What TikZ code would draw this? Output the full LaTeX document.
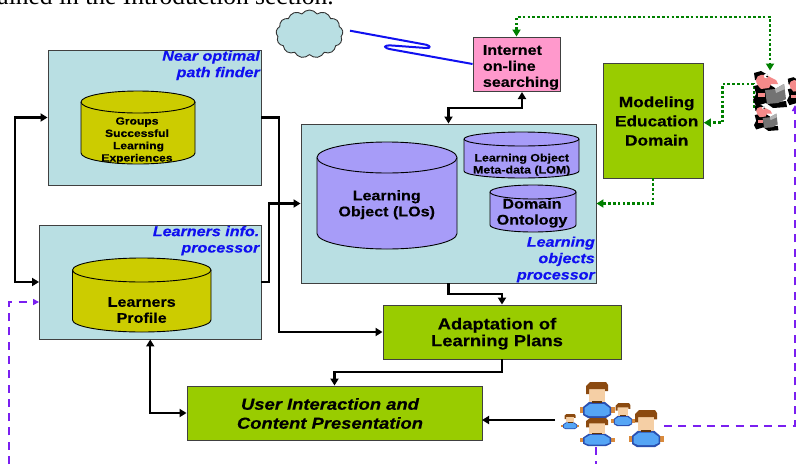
\documentclass[tikz,border=0pt]{standalone}
\usepackage{fontspec}
\setmainfont[FakeStretch=1.15,BoldFeatures={FakeBold=0.3},BoldItalicFeatures={FakeBold=0.3}]{Liberation Sans}
\newfontfamily\topfont{Liberation Serif}
\usetikzlibrary{arrows.meta,shapes.symbols,calc}
\definecolor{tealbox}{HTML}{B9DFE3}
\definecolor{greenbox}{HTML}{99CC00}
\definecolor{yellowcyl}{HTML}{CCCC00}
\definecolor{purplecyl}{HTML}{A79CF8}
\definecolor{pinkbox}{HTML}{FF99CC}
\definecolor{lblblue}{HTML}{1010F0}
\definecolor{grn}{HTML}{008000}
\definecolor{pur}{HTML}{7A1FF0}
\definecolor{hairc}{HTML}{8B4A10}
\definecolor{skinc}{HTML}{F5CFA5}
\definecolor{bodyc}{HTML}{55A5F5}
\definecolor{bodyd}{HTML}{2A50B0}
\definecolor{armc}{HTML}{D98A3C}
\definecolor{manp}{HTML}{F58A8A}
\tikzset{
  x=1pt,y=-1pt,
  boxn/.style={draw=black!75,line width=0.9pt,inner sep=0pt,rectangle},
  teal box/.style={boxn,fill=tealbox},
  green box/.style={boxn,fill=greenbox},
  pink box/.style={boxn,fill=pinkbox},
  lbl/.style={font=\bfseries\fontsize{14}{16}\selectfont,align=center,inner sep=0pt,text=black},
  lblr/.style={font=\bfseries\itshape\fontsize{14}{16.4}\selectfont,align=right,inner sep=0pt,text=lblblue},
  blk/.style={draw=black,line width=2.4pt,-{Triangle[length=7pt,width=8pt]}},
  blkb/.style={draw=black,line width=2.4pt,{Triangle[length=7pt,width=8pt]}-{Triangle[length=7pt,width=8pt]}},
  gdot/.style={draw=grn,line width=2.8pt,dash pattern=on 2.6pt off 2.2pt,-{Triangle[length=7pt,width=8pt,fill=grn]}},
  gdotb/.style={draw=grn,line width=2.8pt,dash pattern=on 2.6pt off 2.2pt,{Triangle[length=7pt,width=8pt,fill=grn]}-{Triangle[length=7pt,width=8pt,fill=grn]}},
  pdash/.style={draw=pur,line width=1.7pt,dash pattern=on 8pt off 6.3pt,-{Triangle[length=6pt,width=6pt,fill=pur]}},
  pplain/.style={draw=pur,line width=1.7pt,dash pattern=on 8pt off 6.3pt},
}
\newcommand{\mycyl}[7]{%
  \pgfmathsetmacro{\rxv}{(#3-#2)/2}
  \pgfmathsetmacro{\cxv}{(#3+#2)/2}
  \coordinate (#1) at (\cxv,#4);
  \filldraw[fill=#7,draw=black,line width=0.9pt] (#2,#4) -- (#2,#5) arc[start angle=180,end angle=360,x radius=\rxv pt,y radius=#6 pt] -- (#3,#4);
  \filldraw[fill=#7,draw=black,line width=0.9pt] (#2,#4) arc[start angle=180,end angle=-180,x radius=\rxv pt,y radius=#6 pt];
}
\newcommand{\myperson}[4]{%
  \begin{scope}[shift={(#1,#2)},xscale=#3,yscale=#4]
    \fill[armc] (-17.5,25) rectangle (-12,31);
    \fill[armc] (12,25) rectangle (17.5,31);
    \fill[bodyd] (-8,20) -- (8,20) -- (14,25) -- (14,33) -- (9,36) -- (-9,36) -- (-14,33) -- (-14,25) -- cycle;
    \fill[bodyc] (-7,22) -- (7,22) -- (12.5,26) -- (12.5,32) -- (8,34) -- (-8,34) -- (-12.5,32) -- (-12.5,26) -- cycle;
    \fill[skinc] (-8,5) rectangle (8,20);
    \fill[hairc] (-7,0) -- (9,0) -- (11,3) -- (11,9) -- (8,9) -- (8,7) -- (-8,7) -- (-8,12) -- (-11,12) -- (-11,4) -- cycle;
    \fill[hairc!70!black] (-5,19) rectangle (5,21);
  \end{scope}}
\newcommand{\myman}[3]{%
  \begin{scope}[shift={(#1,#2)},scale=#3]
    \fill[black] (1,14) -- (14,11) -- (22,16) -- (24,30) -- (33,29) -- (34,35) -- (20,36) -- (13,31) -- (3,34) -- (0,28) -- (3,22) -- cycle;
    \fill[black] (1,1) -- (8,-1) -- (15,3) -- (8,9) -- (2,8) -- cycle;
    \fill[manp] (3,8) .. controls (3,2) and (13,1) .. (17,5) -- (23,8) -- (25,12) -- (18,12) -- (16,16) -- (8,17) .. controls (5,14) and (3,11) .. (3,8) -- cycle;
    \fill[white] (13,4) circle[radius=2.2];
    \fill[black] (14,4.5) circle[radius=1];
    \fill[manp] (5,21) rectangle (12,25);
    \fill[black!55] (12,18) -- (22,17) -- (31,12) -- (33,27) -- (25,31) -- (14,32) -- cycle;
    \fill[black!30] (22,17) -- (31,12) -- (32,17) -- (23,21) -- cycle;
  \end{scope}}
\begin{document}
\begin{tikzpicture}
\useasboundingbox (0,0) rectangle (796,464);
\clip (0,0) rectangle (796,464);
\fill[white] (0,0) rectangle (796,464);
\node[anchor=base east,inner sep=0pt,font=\topfont\fontsize{25.5}{28}\selectfont] (toptext) at (334,4) {ained in the Introduction section.};

% boxes
\node[teal box,minimum width=213pt,minimum height=135pt] (near) at (154.5,117.5) {};
\node[teal box,minimum width=221.5pt,minimum height=114pt] (linfo) at (150.25,282) {};
\node[teal box,minimum width=295pt,minimum height=159pt] (lop) at (448.5,203.5) {};
\node[pink box,minimum width=87pt,minimum height=54pt] (inet) at (516.5,64) {};
\node[green box,minimum width=100pt,minimum height=114.5pt] (model) at (653,120.75) {};
\node[green box,minimum width=238pt,minimum height=54pt] (adapt) at (502,332) {};
\node[green box,minimum width=295pt,minimum height=54pt] (user) at (334.5,413) {};
\node[draw=black!80,line width=0.9pt,fill=tealbox,shape=cloud,cloud puffs=13,cloud puff arc=110,aspect=1.4,inner sep=0pt,minimum width=67pt,minimum height=48pt] (cloudn) at (309.5,34) {};

% cylinders
\mycyl{cgroups}{81}{195}{102}{153}{11}{yellowcyl}
\mycyl{cprofile}{72.5}{211}{270}{320}{12}{yellowcyl}
\mycyl{clo}{317}{457}{157.5}{233.5}{15.5}{purplecyl}
\mycyl{clom}{464}{579}{139}{171}{7}{purplecyl}
\mycyl{cdom}{490}{576}{192}{225}{7}{purplecyl}

% labels
\node[lblr,anchor=east] (tnear) at (260,65.3) {Near optimal\\path finder};
\node[lblr,anchor=east] (tinfo) at (259.5,240.7) {Learners info.\\processor};
\node[lblr,anchor=east] (tlop) at (595,259.5) {Learning\\objects\\processor};
\node[lbl,font=\bfseries\fontsize{10.5}{12.3}\selectfont] (tgroups) at (137,140.5) {Groups\\Successful\\\hspace{3pt}Learning\\Experiences};
\node[lbl] (tprofile) at (141.7,310) {Learners\\Profile};
\node[lbl] (tlo) at (386.7,204.7) {Learning\\Object (LOs)};
\node[lbl,font=\bfseries\fontsize{10.8}{12}\selectfont] (tlom) at (521.7,164.7) {Learning Object\\Meta-data (LOM)};
\node[lbl] (tdom) at (532,213) {Domain\\Ontology};
\node[lbl,align=left,anchor=west] (tinet) at (482.7,67.5) {Internet\\on-line\\searching};
\node[lbl,font=\bfseries\fontsize{15}{19.2}\selectfont] (tmodel) at (656.7,121) {Modeling\\Education\\Domain};
\node[lbl,font=\bfseries\fontsize{16}{16.8}\selectfont] (tadapt) at (497,333.7) {Adaptation of\\Learning Plans};
\node[lbl,font=\bfseries\itshape\fontsize{16}{19}\selectfont] (tuser) at (330,413.5) {User Interaction and\\Content Presentation};

% free ends
\coordinate (lbus) at (15,200);
\coordinate (nbus) at (279,200);
\coordinate (ibus) at (269,240);
\coordinate (ia) at (522,92);
\coordinate (ib) at (522,108);
\coordinate (opd) at (475,294);
\coordinate (apd) at (420,372);
\coordinate (uarrow) at (555,420);
\coordinate (uwest) at (482,420);
\coordinate (zz) at (350,30.7);
\coordinate (gtop) at (770,17);
\coordinate (gman) at (770,70.5);
\coordinate (gb1) at (754,108);
\coordinate (gb2) at (722.5,84);
\coordinate (gbe) at (703.8,122.7);
\coordinate (gc) at (653,203.5);
\coordinate (pl0) at (9,464);
\coordinate (pr0) at (664,426);
\coordinate (pr1) at (795,426);
\coordinate (pr2) at (795,105);
\coordinate (pb0) at (596,447);
\coordinate (pb1) at (596,464);

% black connectors
\draw[blkb] (near.west) -| (lbus) |- (linfo.west);
\draw[blk] (near.east) -| (nbus) |- (adapt.west);
\draw[blk] (linfo.east) -| (ibus) |- (lop.west);
\draw[blkb] (ia) |- (ib) -| (lop.north);
\draw[blk] (lop.south) |- (opd) -| (adapt.north);
\draw[blk] (adapt.south) |- (apd) -| (user.north);
\draw[blk] (uarrow) -- (uwest);
\draw[blkb] (linfo.south) |- (user.west);

% zigzag
\draw[lblblue,line width=2pt,line join=round] (zz) -- (426,44.7) .. controls (431,46) and (431,48.5) .. (426,48) -- (392,45.5) .. controls (382,45) and (383,48) .. (392,49.5) -- (inet.west);

% green dotted connectors
\draw[gdotb] (inet.north) |- (gtop) -- (gman);
\draw[gdot] (gb1) |- (gb2) |- (gbe);
\draw[gdot] (model.south) |- (gc) -- (lop.east);

% purple dashed connectors
\draw[pdash] (pl0) |- ($(linfo.west)+(0,20)$);
\draw[pdash] (pr0) -- (pr1) -- (pr2);
\draw[pplain] (pb0) -- (pb1);

% figures
\myman{753}{72}{1}
\myman{787}{78}{0.8}
\myman{754}{105}{0.72}
\myperson{597}{382}{1}{1}
\myperson{597}{418}{1}{0.78}
\myperson{623}{403}{0.66}{0.64}
\myperson{646}{410}{1}{1.03}
\myperson{570}{414}{0.5}{0.42}
\end{tikzpicture}
\end{document}
